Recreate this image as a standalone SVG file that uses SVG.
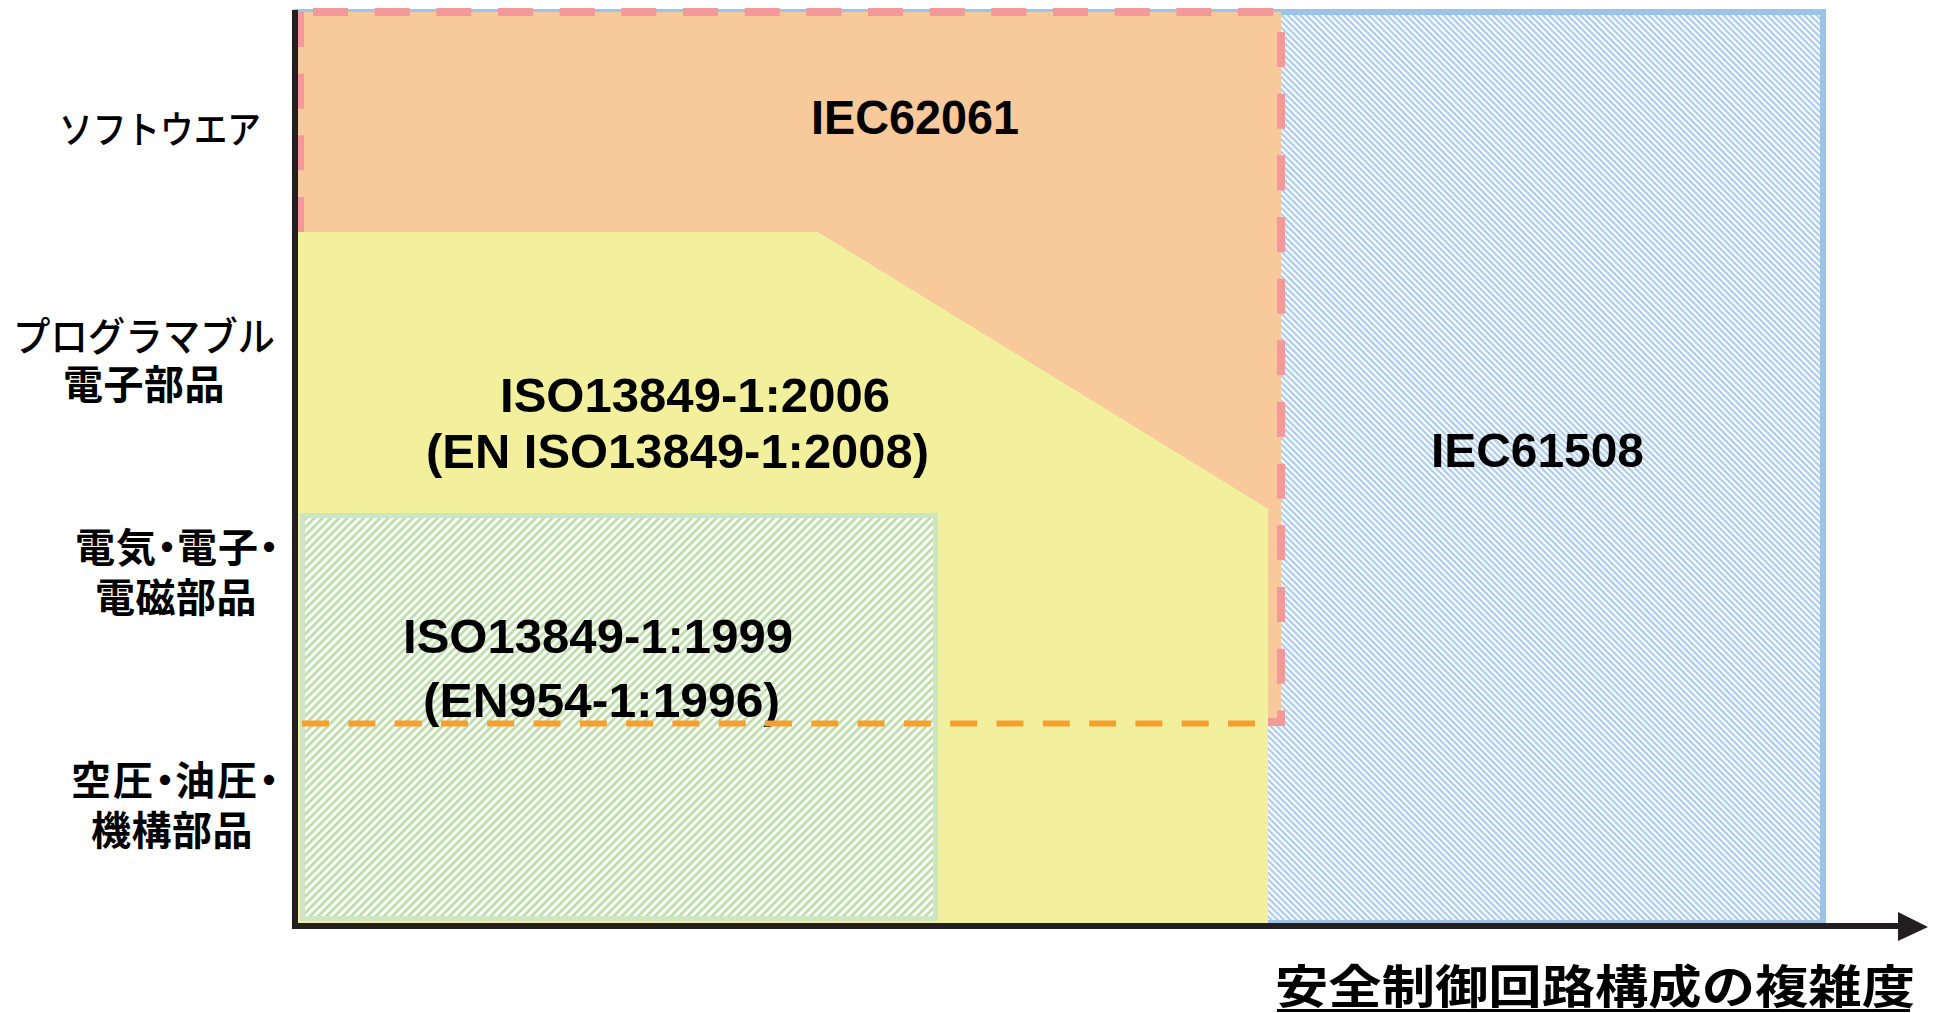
<svg xmlns="http://www.w3.org/2000/svg" width="1933" height="1013" viewBox="0 0 1933 1013">
  <style>
    .lbl { font-family: "Noto Sans CJK JP", "Noto Sans", sans-serif; fill: #000; }
    .std { font-family: "Liberation Sans", "Noto Sans CJK JP", sans-serif; font-weight: 700; font-size: 49px; fill: #000; }
    .ax { stroke: #231F20; stroke-width: 6; fill: none; }
    .pink { stroke: #F4999A; stroke-width: 8; fill: none; stroke-dasharray: 35 26.67; }
  </style>
  <defs>
    <pattern id="hatchBlue" width="4.4" height="4.4" patternUnits="userSpaceOnUse" patternTransform="rotate(-45)">
      <rect width="4.4" height="4.4" fill="#FFFFFF"/>
      <line x1="2.2" y1="0" x2="2.2" y2="4.4" stroke="#A6C8EA" stroke-width="2.1"/>
    </pattern>
    <pattern id="hatchGreen" width="5.8" height="5.8" patternUnits="userSpaceOnUse" patternTransform="rotate(45)">
      <rect width="5.8" height="5.8" fill="#FFFFFF"/>
      <line x1="2.9" y1="0" x2="2.9" y2="5.8" stroke="#BBDCA6" stroke-width="2.8"/>
    </pattern>
  </defs>
  <rect width="1933" height="1013" fill="#FFFFFF"/>

  <g id="iec61508-area">
    <rect x="297" y="12" width="1526" height="911" fill="url(#hatchBlue)" stroke="#9DC3E6" stroke-width="6"/>
  </g>

  <g id="iec62061-area">
    <rect x="297" y="12" width="984" height="711" fill="#F8C99B"/>
    <line class="pink" x1="313" y1="12" x2="1281" y2="12"/>
    <line class="pink" x1="300" y1="12" x2="300" y2="722"/>
    <path class="pink" d="M1281 32 V722 H299"/>
  </g>

  <g id="iso2006-area">
    <polygon points="297,232 818,232 1270,510 1268,510 1268,923 297,923" fill="#F3F09D"/>
  </g>

  <g id="iso1999-area">
    <rect x="302.5" y="515.5" width="633" height="403" fill="url(#hatchGreen)" stroke="#CDE5C1" stroke-width="5"/>
  </g>

  <g id="texts">
    <text class="std" x="811" y="134" textLength="208" lengthAdjust="spacingAndGlyphs">IEC62061</text>
    <text class="std" x="500" y="412" textLength="390" lengthAdjust="spacingAndGlyphs">ISO13849-1:2006</text>
    <text class="std" x="426" y="468" textLength="503" lengthAdjust="spacingAndGlyphs">(EN ISO13849-1:2008)</text>
    <text class="std" x="1431" y="467" textLength="213" lengthAdjust="spacingAndGlyphs">IEC61508</text>
    <text class="std" x="403" y="653" textLength="390" lengthAdjust="spacingAndGlyphs">ISO13849-1:1999</text>
    <text class="std" x="423" y="717" textLength="357" lengthAdjust="spacingAndGlyphs">(EN954-1:1996)</text>
  </g>

  <g id="connectors">
    <line x1="302" y1="723.5" x2="1268" y2="723.5" stroke="#F4A030" stroke-width="6" stroke-dasharray="27 19.3"/>
    <line class="ax" x1="295" y1="10" x2="295" y2="929"/>
    <line class="ax" x1="292" y1="926" x2="1902" y2="926"/>
    <polygon points="1898,912 1928,927 1898,941" fill="#231F20"/>
  </g>

  <g id="y-labels">
    <text class="lbl" font-size="38" font-weight="500" x="59" y="143" textLength="202" lengthAdjust="spacingAndGlyphs">ソフトウエア</text>
    <text class="lbl" font-size="40"><tspan font-weight="500" x="13" y="351" textLength="262" lengthAdjust="spacingAndGlyphs">プログラマブル</tspan><tspan font-weight="700" x="63 103.5 144 184.5" y="399">電子部品</tspan></text>
    <text class="lbl" font-size="40" font-weight="700"><tspan x="75 116 147 177 218 249" y="562">電気・電子・</tspan><tspan x="95 135.5 176 216.5" y="612">電磁部品</tspan></text>
    <text class="lbl" font-size="40" font-weight="700"><tspan x="71 113 145 175 217 249" y="795">空圧・油圧・</tspan><tspan x="91 131.5 172 212.5" y="845">機構部品</tspan></text>
  </g>

  <g id="x-label">
    <text class="lbl" font-size="46" font-weight="700" x="1275" y="1003" textLength="640" lengthAdjust="spacingAndGlyphs">安全制御回路構成の複雑度</text>
    <line x1="1277" y1="1010.5" x2="1910" y2="1010.5" stroke="#000" stroke-width="3"/>
  </g>
</svg>
